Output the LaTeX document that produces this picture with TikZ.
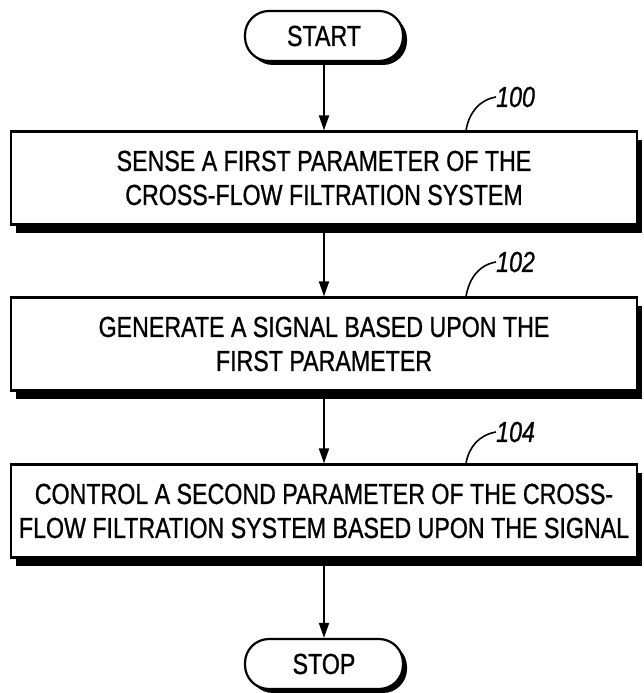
\documentclass[tikz,border=0pt]{standalone}
\usepackage{fontspec}
\newfontfamily\flowfont{Liberation Sans}[FakeStretch=0.8, FakeBold=0.8]
\usetikzlibrary{arrows.meta, positioning, shadows}

\begin{document}
\begin{tikzpicture}[x=1pt, y=1pt, >={Triangle[length=15pt,width=10pt]}]
    \tikzstyle{block} = [rectangle, draw, line width=2.2pt, fill=white, minimum width=626pt, minimum height=93pt, align=center, font=\flowfont\fontsize{29}{34}\selectfont, drop shadow={shadow xshift=5pt, shadow yshift=-9pt, fill=black, opacity=1}]
    \tikzstyle{terminal} = [rectangle, draw, line width=2.2pt, fill=white, rounded corners=24pt, minimum width=158pt, minimum height=50pt, font=\flowfont\fontsize{29}{34}\selectfont, drop shadow={shadow xshift=4pt, shadow yshift=-4pt, fill=black, opacity=1}]
    \tikzstyle{refnum} = [font=\flowfont\itshape\fontsize{29}{30}\selectfont, anchor=west, inner sep=0pt]
    \tikzstyle{leader} = [line width=1.6pt]

    \useasboundingbox (0,0) rectangle (644,693);

    % Start
    \node[terminal] (start) at (324,657) {START};

    % Sense
    \node[block] (sense) at (324,515) {SENSE A FIRST PARAMETER OF THE\\CROSS-FLOW FILTRATION SYSTEM};
    \node[refnum] (n100) at (496,596) {100};

    % Signal
    \node[block] (signal) at (324,349) {GENERATE A SIGNAL BASED UPON THE\\FIRST PARAMETER};
    \node[refnum] (n102) at (496,431) {102};

    % Control
    \node[block] (control) at (324,182) {CONTROL A SECOND PARAMETER OF THE CROSS-\\FLOW FILTRATION SYSTEM BASED UPON THE SIGNAL};
    \node[refnum] (n104) at (496,261) {104};

    % Stop
    \node[terminal] (stop) at (324,29) {STOP};

    % Arrows
    \draw[->, line width=1.8pt] (start) -- (sense);
    \draw[->, line width=1.8pt] (sense) -- (signal);
    \draw[->, line width=1.8pt] (signal) -- (control);
    \draw[->, line width=1.8pt] (control) -- (stop);

    % Reference leaders
    \draw[leader] ([xshift=142pt]sense.north) to[out=80, in=190] (n100.west);
    \draw[leader] ([xshift=142pt]signal.north) to[out=80, in=190] (n102.west);
    \draw[leader] ([xshift=142pt]control.north) to[out=80, in=190] (n104.west);
\end{tikzpicture}
\end{document}
